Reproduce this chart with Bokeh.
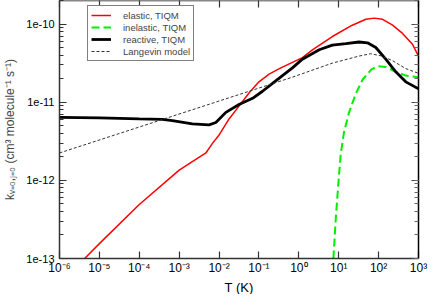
from bokeh.plotting import figure
from bokeh.models import LogAxis, Legend, LegendItem, LogTicker, CustomJSTickFormatter, Range1d, Title
from bokeh.embed import file_html
from bokeh.resources import INLINE

# ---- data ----
T_elastic = [1e-6, 4.27e-6, 1e-5, 1e-4, 1e-3, 2.14e-3, 4.68e-3, 6.76e-3, 1e-2, 1.78e-2, 3.16e-2, 5.69e-2,
             0.1, 0.18, 0.324, 0.63, 1.23, 2.19, 6.92, 21.9, 47.9, 77.6, 126, 224, 398, 708, 1000]
k_elastic = [4.57e-14, 1.0e-13, 1.55e-13, 4.9e-13, 1.35e-12, 1.74e-12, 2.24e-12, 2.95e-12, 3.8e-12, 6.1e-12, 8.9e-12, 1.32e-11,
             1.82e-11, 2.29e-11, 2.69e-11, 3.16e-11, 3.72e-11, 4.68e-11, 6.92e-11, 9.66e-11, 1.15e-10, 1.19e-10, 1.15e-10,
             9.66e-11, 7.59e-11, 5.5e-11, 3.89e-11]

T_inelastic = [7.36, 8.41, 9.66, 11.2, 13.6, 18.2, 26.9, 39.8, 66.1, 95.5, 151, 269, 479, 1000]
k_inelastic = [1.0e-13, 3.16e-13, 8.32e-13, 2.14e-12, 4.17e-12, 7.41e-12, 1.29e-11, 1.95e-11, 2.63e-11,
               2.88e-11, 2.82e-11, 2.45e-11, 2.19e-11, 2.09e-11]

T_reactive = [1e-6, 1e-5, 1e-4, 3.8e-4, 6.76e-4, 2.14e-3, 5.62e-3, 8.32e-3, 1.48e-2, 3.16e-2, 6.92e-2,
              0.123, 0.219, 0.389, 0.692, 1.23, 3.24, 6.92, 15.1, 32.4, 52.5, 85.1, 151, 269, 479, 1000]
k_reactive = [6.38e-12, 6.31e-12, 6.1e-12, 6.03e-12, 5.8e-12, 5.28e-12, 5.13e-12, 5.5e-12, 7.41e-12, 9.33e-12, 1.12e-11,
              1.38e-11, 1.74e-11, 2.19e-11, 2.75e-11, 3.55e-11, 4.68e-11, 5.37e-11, 5.62e-11, 5.89e-11, 5.75e-11,
              5.01e-11, 3.55e-11, 2.45e-11, 1.82e-11, 1.48e-11]

T_langevin = [1e-6, 0.692, 6.92, 32.4, 63.1, 123, 224, 479, 1000]
k_langevin = [2.24e-12, 2.09e-11, 3.16e-11, 3.89e-11, 4.17e-11, 3.89e-11, 3.39e-11, 2.69e-11, 2.34e-11]

x_ticks = [1e-6, 1e-5, 1e-4, 1e-3, 1e-2, 1e-1, 1e0, 1e1, 1e2, 1e3]
x_tick_labels = ["10⁻⁶", "10⁻⁵", "10⁻⁴", "10⁻³", "10⁻²", "10⁻¹", "10⁰", "10¹", "10²", "10³"]
y_ticks = [1e-13, 1e-12, 1e-11, 1e-10]
y_tick_labels = ["1e-13", "1e-12", "1e-11", "1e-10"]

FONT = "Liberation Sans"
W, H = 428, 294
BL, BR, BT, BB = 59, 10, 0, 31

p = figure(width=W, height=H, x_axis_type="log", y_axis_type="log",
           x_range=Range1d(1e-6, 1e3), y_range=Range1d(1e-13, 2e-10),
           output_backend="svg", toolbar_location=None,
           min_border_left=BL, min_border_right=BR, min_border_top=BT, min_border_bottom=BB)
p.grid.visible = False
p.outline_line_color = None
p.background_fill_color = "white"
p.border_fill_color = "white"

r_el = p.line(T_elastic, k_elastic, line_color="#ff0000", line_width=1.5)
r_in = p.line(T_inelastic, k_inelastic, line_color="#00ee00", line_width=2, line_dash="8 4")
r_re = p.line(T_reactive, k_reactive, line_color="black", line_width=2.8)
r_la = p.line(T_langevin, k_langevin, line_color="#333333", line_width=1, line_dash="3 2")

def style_axis(ax, color, width):
    ax.axis_line_color = color
    ax.axis_line_width = width
    ax.major_tick_line_color = color
    ax.minor_tick_line_color = color
    ax.major_tick_in = 7
    ax.major_tick_out = 0
    ax.minor_tick_in = 4
    ax.minor_tick_out = 0

xa = p.xaxis[0]
xa.ticker = x_ticks
xa.major_label_overrides = {v: s for v, s in zip(x_ticks, x_tick_labels)}
style_axis(xa, "#333333", 1.5)
xa.minor_tick_line_color = None
xa.major_label_text_font = FONT
xa.major_label_text_font_size = "12px"
xa.major_label_text_color = "black"
xa.major_label_standoff = 2

ya = p.yaxis[0]
ya.ticker = LogTicker(num_minor_ticks=10)
ya.major_label_overrides = {v: s for v, s in zip(y_ticks, y_tick_labels)}
style_axis(ya, "#333333", 1.5)
ya.major_label_text_font = FONT
ya.major_label_text_font_size = "11px"
ya.major_label_text_color = "black"
ya.major_label_standoff = 5
ya.axis_label = "kᵥ₌₀,ⱼ₌₀ (cm³ molecule⁻¹ s⁻¹)"
ya.axis_label_text_font = FONT
ya.axis_label_text_font_size = "12px"
ya.axis_label_text_font_style = "normal"
ya.axis_label_standoff = 6

# x-axis title in its own panel just under the tick labels
p.add_layout(Title(text="T (K)", align="center", text_font=FONT, text_font_size="13px",
                   text_font_style="normal", text_color="black", standoff=0, offset=0), "below")

blank = CustomJSTickFormatter(code="return '';")
top = LogAxis(ticker=x_ticks, formatter=blank, major_label_standoff=0,
              major_label_text_font_size="1px")
style_axis(top, "#888888", 2)
top.minor_tick_line_color = None
top.major_tick_line_color = "#333333"
top.major_tick_line_width = 1.2
p.add_layout(top, "above")

right = LogAxis(ticker=LogTicker(num_minor_ticks=10), formatter=blank, major_label_standoff=0,
                major_label_text_font_size="1px")
style_axis(right, "black", 1.5)
right.major_tick_line_color = "#444444"
right.minor_tick_line_color = "#666666"
p.add_layout(right, "right")

xa.major_tick_line_width = 1.2
ya.major_tick_line_width = 1.2
ya.minor_tick_line_width = 1
right.minor_tick_line_width = 1

frame_h = H - BT - BB
legend = Legend(items=[
    LegendItem(label="elastic, TIQM", renderers=[r_el]),
    LegendItem(label="inelastic, TIQM", renderers=[r_in]),
    LegendItem(label="reactive, TIQM", renderers=[r_re]),
    LegendItem(label="Langevin model", renderers=[r_la]),
], location=(28, frame_h - 12 - 54))
legend.label_text_font = FONT
legend.label_text_font_size = "9.5px"
legend.label_height = 12
legend.glyph_height = 12
legend.glyph_width = 20
legend.label_standoff = 12
legend.spacing = 0
legend.padding = 3
legend.margin = 0
legend.border_line_color = "black"
legend.border_line_width = 1
legend.background_fill_alpha = 1
p.add_layout(legend)

open("out.html", "w").write(file_html(p, INLINE))
